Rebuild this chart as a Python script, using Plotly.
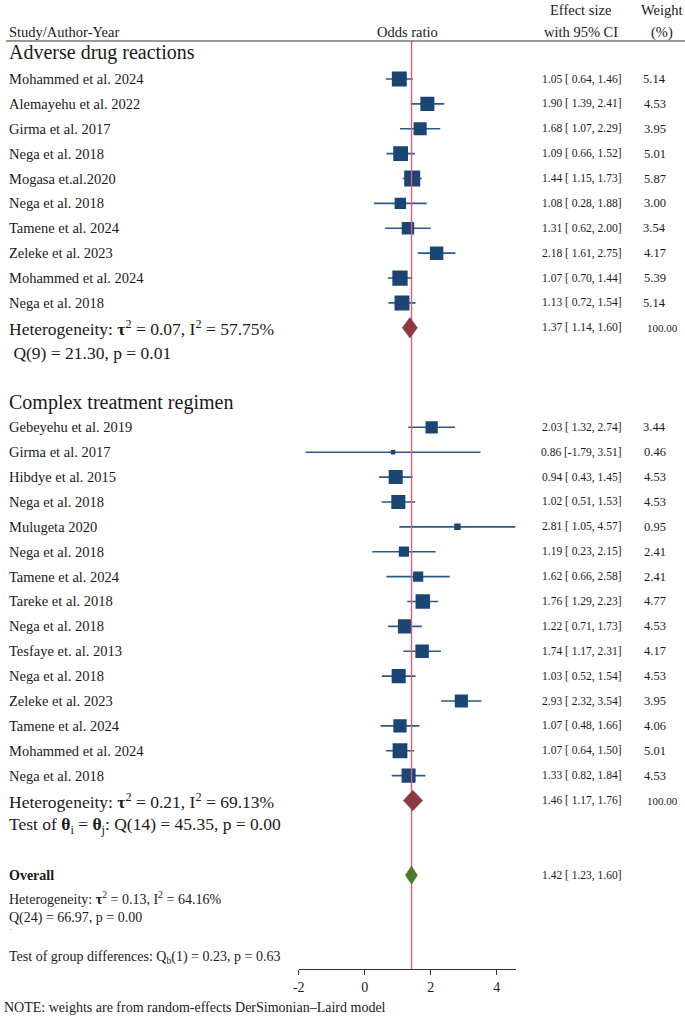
import plotly.graph_objects as go
import numpy as np

# ---------------- data ----------------
adr_names = ["Mohammed et al. 2024", "Alemayehu et al. 2022", "Girma et al. 2017", "Nega et al. 2018",
             "Mogasa et.al.2020", "Nega et al. 2018", "Tamene et al. 2024", "Zeleke et al. 2023",
             "Mohammed et al. 2024", "Nega et al. 2018"]
adr_or = [1.05, 1.90, 1.68, 1.09, 1.44, 1.08, 1.31, 2.18, 1.07, 1.13]
adr_lo = [0.64, 1.39, 1.07, 0.66, 1.15, 0.28, 0.62, 1.61, 0.70, 0.72]
adr_hi = [1.46, 2.41, 2.29, 1.52, 1.73, 1.88, 2.00, 2.75, 1.44, 1.54]
adr_w = [5.14, 4.53, 3.95, 5.01, 5.87, 3.00, 3.54, 4.17, 5.39, 5.14]

ctr_names = ["Gebeyehu et al. 2019", "Girma et al. 2017", "Hibdye et al. 2015", "Nega et al. 2018",
             "Mulugeta 2020", "Nega et al. 2018", "Tamene et al. 2024", "Tareke et al. 2018",
             "Nega et al. 2018", "Tesfaye et. al. 2013", "Nega et al. 2018", "Zeleke et al. 2023",
             "Tamene et al. 2024", "Mohammed et al. 2024", "Nega et al. 2018"]
ctr_or = [2.03, 0.86, 0.94, 1.02, 2.81, 1.19, 1.62, 1.76, 1.22, 1.74, 1.03, 2.93, 1.07, 1.07, 1.33]
ctr_lo = [1.32, -1.79, 0.43, 0.51, 1.05, 0.23, 0.66, 1.29, 0.71, 1.17, 0.52, 2.32, 0.48, 0.64, 0.82]
ctr_hi = [2.74, 3.51, 1.45, 1.53, 4.57, 2.15, 2.58, 2.23, 1.73, 2.31, 1.54, 3.54, 1.66, 1.50, 1.84]
ctr_w = [3.44, 0.46, 4.53, 4.53, 0.95, 2.41, 2.41, 4.77, 4.53, 4.17, 4.53, 3.95, 4.06, 5.01, 4.53]

group_titles = ["Adverse drug reactions", "Complex treatment regimen"]
group_est = [1.37, 1.46]
group_lo = [1.14, 1.17]
group_hi = [1.60, 1.76]
group_w = ["100.00", "100.00"]
group_het1 = ["Heterogeneity: <b>τ</b><sup>2</sup> = 0.07, I<sup>2</sup> = 57.75%",
              "Heterogeneity: <b>τ</b><sup>2</sup> = 0.21, I<sup>2</sup> = 69.13%"]
group_het2 = ["&nbsp;Q(9) = 21.30, p = 0.01",
              "Test of <b>θ</b><sub>i</sub> = <b>θ</b><sub>j</sub>: Q(14) = 45.35, p = 0.00"]

overall_est, overall_lo, overall_hi = 1.42, 1.23, 1.60
overall_het1 = "Heterogeneity: <b>τ</b><sup>2</sup> = 0.13, I<sup>2</sup> = 64.16%"
overall_het2 = "Q(24) = 66.97, p = 0.00"
group_diff = "Test of group differences: Q<sub>b</sub>(1) = 0.23, p = 0.63"
note = "NOTE: weights are from random-effects DerSimonian\u2013Laird model"
x_ticks = [-2, 0, 2, 4]
x_ticktext = ["-2", "0", "2", "4"]

# ---------------- layout helpers ----------------
W, H = 685, 1019
FONT = "Liberation Serif"
TXT = "#1a1a1a"
SQ = "#1b4673"
CI = "#2c5985"
RED_LINE = "#db5f7c"
MAROON = "#8c3a42"
GREEN = "#4f7a2c"
Y0, DY = 54.12, 24.88
LX = 2  # left text x (compensates for annotation inset)


def row(p):
    return (p - Y0) / DY


def px(x):
    return x / W


adr_rows = np.arange(1, len(adr_or) + 1)
ctr_rows = np.arange(15, 15 + len(ctr_or))
group_rows = [11, 30]
group_title_rows = [row(52), row(402)]
overall_row = 33

fig = go.Figure()
annotations = []


def add_text(x, y, text, size, anchor="left", bold=False, color=TXT):
    annotations.append(dict(xref="paper", yref="y", x=px(x), y=y, text=("<b>%s</b>" % text) if bold else text,
                            showarrow=False, xanchor=anchor, yanchor="middle",
                            font=dict(family=FONT, size=size, color=color), borderpad=0))


# study markers
for names, est, lo, hi, w, rows in [(adr_names, adr_or, adr_lo, adr_hi, adr_w, adr_rows),
                                    (ctr_names, ctr_or, ctr_lo, ctr_hi, ctr_w, ctr_rows)]:
    est = np.array(est); lo = np.array(lo); hi = np.array(hi); w = np.array(w)
    fig.add_trace(go.Scatter(
        x=est, y=rows, mode="markers",
        marker=dict(symbol="square", size=6.6 * np.sqrt(w), color=SQ, opacity=1, line=dict(width=0)),
        error_x=dict(type="data", symmetric=False, array=hi - est, arrayminus=est - lo,
                     color=CI, thickness=1.6, width=0),
        showlegend=False, hoverinfo="skip"))
    for n, e, l, h, ww, r in zip(names, est, lo, hi, w, rows):
        add_text(LX, r, n, 14.5)
        add_text(622, r, "%.2f [%5.2f,%5.2f]" % (e, l, h), 11.5, anchor="right")
        add_text(667, r, "%.2f" % ww, 12.5, anchor="right")

# vertical overall line
fig.add_trace(go.Scatter(x=[overall_est, overall_est], y=[row(41), row(969)], mode="lines",
                         line=dict(color=RED_LINE, width=1.4), showlegend=False, hoverinfo="skip"))

# subgroup diamonds
for i in range(2):
    r = group_rows[i]
    fig.add_trace(go.Scatter(
        x=[group_lo[i], group_est[i], group_hi[i], group_est[i], group_lo[i]],
        y=[r, r - 0.41, r, r + 0.41, r], mode="lines", fill="toself",
        fillcolor=MAROON, line=dict(color=MAROON, width=0.5), showlegend=False, hoverinfo="skip"))
    add_text(LX, group_title_rows[i], group_titles[i], 20)
    add_text(LX, r, group_het1[i], 17.5)
    add_text(LX, r + 1, group_het2[i], 17.5)
    add_text(622, r, "%.2f [%5.2f,%5.2f]" % (group_est[i], group_lo[i], group_hi[i]), 11.5, anchor="right")
    add_text(679, r, group_w[i], 11, anchor="right")

# overall diamond
fig.add_trace(go.Scatter(
    x=[overall_lo, overall_est, overall_hi, overall_est, overall_lo],
    y=[overall_row, overall_row - 0.37, overall_row, overall_row + 0.37, overall_row],
    mode="lines", fill="toself", fillcolor=GREEN, line=dict(color=GREEN, width=0.5),
    showlegend=False, hoverinfo="skip"))
add_text(LX, overall_row, "Overall", 14, bold=True)
add_text(622, overall_row, "%.2f [%5.2f,%5.2f]" % (overall_est, overall_lo, overall_hi), 11.5, anchor="right")
add_text(LX, row(898), overall_het1, 14)
add_text(LX, row(918), overall_het2, 14)
add_text(LX + 1, row(931), "'", 7, color="#888888")
add_text(LX, row(957), group_diff, 14)

# headers
add_text(LX, row(32), "Study/Author-Year", 14.5)
add_text(405, row(32), "Odds ratio", 14.5, anchor="center")
add_text(580, row(10), "Effect size", 14.5, anchor="center")
add_text(580, row(32), "with 95% CI", 14.5, anchor="center")
add_text(662, row(10), "Weight", 14.5, anchor="center")
add_text(662, row(32), "(%)", 14.5, anchor="center")

# note
annotations.append(dict(xref="paper", yref="paper", x=px(LX - 6), y=1 - 1007 / H, text=note, showarrow=False,
                        xanchor="left", yanchor="middle", font=dict(family=FONT, size=14, color=TXT)))

fig.update_layout(
    width=W, height=H, margin=dict(l=0, r=0, t=0, b=0),
    paper_bgcolor="white", plot_bgcolor="white",
    annotations=annotations,
    shapes=[dict(type="line", xref="paper", yref="y", x0=0, x1=1, y0=row(41), y1=row(41),
                 line=dict(color="#333333", width=1))],
    xaxis=dict(domain=[295.3 / W, 514.3 / W], range=[-2, 4.58], anchor="free", position=1 - 969 / H,
               showline=True, linecolor="#333333", linewidth=1, ticks="outside", ticklen=5,
               tickcolor="#333333", tickvals=x_ticks, ticktext=x_ticktext, showgrid=False, zeroline=False,
               tickfont=dict(family=FONT, size=14, color=TXT), fixedrange=True),
    yaxis=dict(domain=[0, 1], range=[row(H), row(0)], visible=False, fixedrange=True),
    showlegend=False,
)

fig.write_html("out.html", config={"displayModeBar": False},
               post_script="document.body.style.margin='0';document.body.style.padding='0';"
                           "document.body.style.overflow='hidden';")
